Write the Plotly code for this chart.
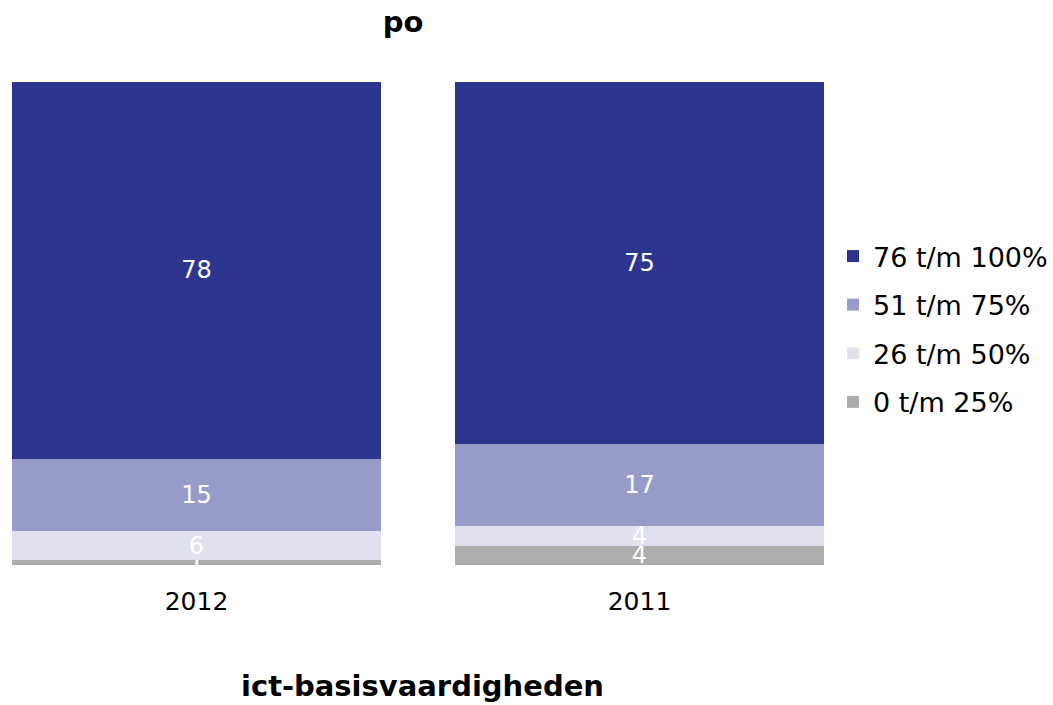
import plotly.graph_objects as go

years = ["2012", "2011"]
bands = ["0 t/m 25%", "26 t/m 50%", "51 t/m 75%", "76 t/m 100%"]
values = {
    "0 t/m 25%": [1, 4],
    "26 t/m 50%": [6, 4],
    "51 t/m 75%": [15, 17],
    "76 t/m 100%": [78, 75],
}
colors = {
    "0 t/m 25%": "#ADADAD",
    "26 t/m 50%": "#E0E0EE",
    "51 t/m 75%": "#979BC9",
    "76 t/m 100%": "#2E358F",
}

FONT = "DejaVu Sans"

fig = go.Figure()
for i, band in enumerate(bands):
    fig.add_trace(go.Bar(
        x=years,
        y=values[band],
        name=band,
        legendgroup=band,
        legendrank=len(bands) - i,
        marker=dict(color=colors[band], line=dict(width=0)),
        text=values[band],
        texttemplate="%{text}",
        textposition="inside",
        textangle=0,
        insidetextanchor="middle",
        textfont=dict(family=FONT, size=24, color="white"),
        cliponaxis=False,
    ))

fig.update_layout(
    barmode="stack",
    bargap=0.167,
    width=1053,
    height=705,
    margin=dict(l=0, r=229, t=82, b=140),
    paper_bgcolor="white",
    plot_bgcolor="white",
    font=dict(family=FONT, color="black"),
    uniformtext=dict(minsize=24, mode="show"),
    title=dict(
        text="<b>po</b>",
        font=dict(family=FONT, size=29, color="black"),
        xref="container", x=403 / 1053, xanchor="center",
        yref="container", y=1 - 22 / 705, yanchor="middle",
    ),
    showlegend=True,
    legend=dict(
        traceorder="grouped",
        tracegroupgap=10.5,
        font=dict(family=FONT, size=27, color="black"),
        xref="container", x=833 / 1053, xanchor="left",
        yref="container", y=1 - 232 / 705, yanchor="top",
        itemwidth=30,
        bgcolor="rgba(0,0,0,0)",
    ),
    xaxis=dict(
        type="category",
        range=[-196.5 / 443, 1 + (824 - 639.5) / 443],
        showgrid=False, zeroline=False, showline=False,
        ticks="outside", ticklen=14, tickcolor="rgba(0,0,0,0)",
        tickfont=dict(family=FONT, size=25, color="black"),
    ),
    yaxis=dict(
        range=[0, 100],
        visible=False,
        showgrid=False, zeroline=False,
    ),
    annotations=[dict(
        text="<b>ict-basisvaardigheden</b>",
        xref="paper", yref="paper",
        x=422 / 824, y=-(686 - 565) / 483,
        xanchor="center", yanchor="middle",
        showarrow=False,
        font=dict(family=FONT, size=29, color="black"),
    )],
)

fig.write_html("out.html")
